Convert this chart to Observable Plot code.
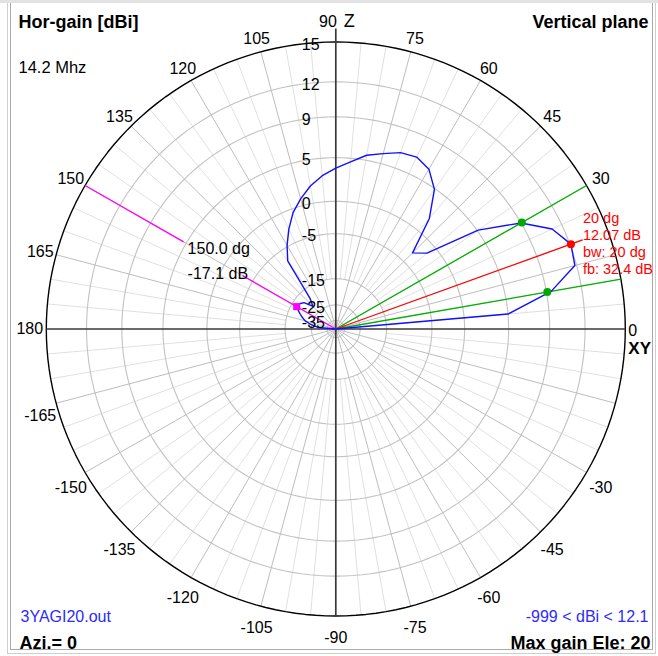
<!DOCTYPE html>
<html><head><meta charset="utf-8">
<script src="https://cdn.jsdelivr.net/npm/d3@7"></script>
<script src="https://cdn.jsdelivr.net/npm/@observablehq/plot@0.6"></script>
<style>
html,body{margin:0;padding:0;background:#fff;}
#wrap{position:relative;width:658px;height:656px;overflow:hidden;}
.ln{position:absolute;}
#chart{position:absolute;left:0;top:0;}
</style></head>
<body>
<div id="wrap">
  <div class="ln" style="left:0;top:0;width:658px;height:3px;background:#e2e2e2"></div>
  <div class="ln" style="left:7px;top:3px;width:1px;height:651px;background:#cfcfcf"></div>
  <div class="ln" style="left:10px;top:3px;width:1px;height:647px;background:#a9a9a9"></div>
  <div class="ln" style="left:10px;top:649px;width:643px;height:1px;background:#a9a9a9"></div>
  <div class="ln" style="left:7px;top:653px;width:649px;height:1px;background:#cfcfcf"></div>
  <div class="ln" style="left:652px;top:3px;width:1px;height:647px;background:#a9a9a9"></div>
  <div class="ln" style="left:655px;top:3px;width:1px;height:651px;background:#cfcfcf"></div>
  <div id="chart"></div>
</div>
<script>
// ---- data ----
const elevationDeg = [0,5,10,15,20,25,30,35,40,45,50,55,60,65,70,75,80,85,90,95,100,105,110,115,120,125,130,135,140,145,150,155,160,165,170,175,180];
const gainDbi = [-999,5.0,9.4,11.85,12.07,11.1,9.0,5.1,-1.5,-3.1,1.9,4.9,6.3,6.8,6.6,6.0,5.5,4.6,3.8,3.0,2.0,0.8,-0.6,-2.7,-4.8,-7.7,-19.1,-22,-18.5,-17.4,-17.1,-18.8,-20.5,-22.2,-24.8,-29,-999];
const gainTicks = [15,12,9,5,0,-5,-15,-25,-35];
const angleTicks = [30,45,60,75,105,120,135,150,165,180,-30,-45,-60,-75,-90,-105,-120,-135,-150,-165];
const maxAngle = 20, maxGain = 12.07, beamwidth = 20, frontBack = 32.4;
const bwEdges = [10, 30];
const markerAngle = 150, markerGain = -17.1;
const freqLabel = "14.2 Mhz", fileLabel = "3YAGI20.out", rangeLabel = "-999 < dBi < 12.1";
const aziLabel = "Azi.= 0", maxEleLabel = "Max gain Ele: " + maxAngle;

// ---- MMANA-style radial gain scale (fraction of outer ring) ----
const radial = d3.scaleLinear()
  .domain([-60,-35,-25,-15,-5,0,5,9,12,15])
  .range([0,0.03,0.084,0.175,0.332,0.445,0.597,0.739,0.861,1])
  .clamp(true);
const rad = Math.PI/180;
const cx = (a, r) => r*Math.cos(a*rad);
const cy = (a, r) => r*Math.sin(a*rad);

const pattern = elevationDeg.map((a,i)=>({a, g: gainDbi[i]}));
const rings = gainTicks.flatMap(g => d3.range(0, 362, 2).map(t => ({g, t})));
const majorSpokes = d3.range(0, 360, 15).filter(a => a % 90 !== 0);
const minorSpokes = d3.range(0, 360, 5).filter(a => a % 15 !== 0);
const halfPower = maxGain - 3;
const topLabels = angleTicks.filter(a => a > 0);
const botLabels = angleTicks.filter(a => a < 0);
const lab = 1.045;

const F = "'Liberation Sans', Arial, sans-serif";
const ringR = r => radial(15)*r;

const chart = Plot.plot({
  width: 658, height: 656, margin: 0,
  x: {domain: [-335.3/289.5, (658-335.3)/289.5], range: [0, 658], axis: null},
  y: {domain: [-(656-328.5)/287, 328.5/287], range: [656, 0], axis: null},
  style: {fontFamily: F, background: "transparent", overflow: "visible", color: "#000"},
  marks: [
    // minor spokes
    Plot.link(minorSpokes, {x1: a => cx(a, radial(-15)), y1: a => cy(a, radial(-15)), x2: a => cx(a, 1), y2: a => cy(a, 1), stroke: "#e0e0e0", strokeWidth: 1}),
    // major spokes
    Plot.link(majorSpokes, {x1: () => 0, y1: () => 0, x2: a => cx(a, 1), y2: a => cy(a, 1), stroke: "#bdbdbd", strokeWidth: 1}),
    // rings
    Plot.line(rings.filter(d => d.g !== 15), {x: d => cx(d.t, radial(d.g)), y: d => cy(d.t, radial(d.g)), z: "g", stroke: "#c2c2c2", strokeWidth: 1.1}),
    Plot.line(rings.filter(d => d.g === 15), {x: d => cx(d.t, radial(d.g)), y: d => cy(d.t, radial(d.g)), z: "g", stroke: "#000", strokeWidth: 1.4}),
    // axes
    Plot.link([0], {x1: () => -ringR(1), y1: () => 0, x2: () => ringR(1), y2: () => 0, stroke: "#3a3a3a", strokeWidth: 1.7}),
    Plot.link([0], {x1: () => 0, y1: () => -ringR(1), x2: () => 0, y2: () => ringR(1.047), stroke: "#3a3a3a", strokeWidth: 1.7}),
    // beamwidth edges and max direction
    Plot.link(bwEdges, {x1: () => 0, y1: () => 0, x2: a => cx(a, 1), y2: a => cy(a, 1), stroke: "#00b000", strokeWidth: 1.3}),
    Plot.link([maxAngle], {x1: () => 0, y1: () => 0, x2: a => cx(a, 0.907), y2: a => cy(a, 0.907), stroke: "#ff0000", strokeWidth: 1.3}),
    // marker spoke (broken around its label)
    Plot.link([[0, 0.372], [0.607, 1]], {x1: d => cx(markerAngle, d[0]), y1: d => cy(markerAngle, d[0]), x2: d => cx(markerAngle, d[1]), y2: d => cy(markerAngle, d[1]), stroke: "#ff00ff", strokeWidth: 1.3}),
    // pattern
    Plot.line(pattern, {x: d => cx(d.a, radial(d.g)), y: d => cy(d.a, radial(d.g)), stroke: "#1010ff", strokeWidth: 1.4}),
    // dots
    Plot.dot(bwEdges, {x: a => cx(a, radial(halfPower)), y: a => cy(a, radial(halfPower)), r: 4, fill: "#00a800"}),
    Plot.dot([maxAngle], {x: a => cx(a, radial(maxGain)), y: a => cy(a, radial(maxGain)), r: 4, fill: "#ff0000"}),
    Plot.dot([markerAngle], {x: a => cx(a, radial(markerGain)), y: a => cy(a, radial(markerGain)), r: 4, symbol: "square", fill: "#ff00ff"}),
    // radial tick labels
    Plot.text(gainTicks, {x: () => 0, y: g => radial(g), text: g => String(g), textAnchor: "start", dx: -34, dy: 2.5, fontSize: 16, fill: "#000"}),
    // angle labels
    Plot.text(topLabels, {x: a => cx(a, 1.057), y: a => cy(a, lab), text: a => String(a), fontSize: 16, fill: "#000"}),
    Plot.text(botLabels, {x: a => cx(a, 1.057), y: a => cy(a, lab), text: a => String(a), dy: 9, fontSize: 16, fill: "#000"}),
    Plot.text([90], {x: () => 0, y: a => cy(a, lab), text: a => String(a), textAnchor: "end", dx: 1, dy: -7.5, fontSize: 16, fill: "#000"}),
    Plot.text(["Z"], {x: () => 0, y: () => cy(90, lab), textAnchor: "start", dx: 8, dy: -7.5, fontSize: 18, fill: "#000"}),
    Plot.text([0], {x: () => 1, y: () => 0, text: a => String(a), textAnchor: "start", dx: 3, dy: 1.5, fontSize: 16, fill: "#000"}),
    Plot.text(["XY"], {x: () => 1, y: () => 0, textAnchor: "start", dx: 3, dy: 20, fontSize: 17, fontWeight: "bold", fill: "#000"}),
    // max annotation
    Plot.text([maxAngle], {x: a => cx(a, radial(maxGain)), y: a => cy(a, radial(maxGain)),
      text: () => `${maxAngle} dg\n${maxGain.toFixed(2)} dB\nbw: ${beamwidth} dg\nfb: ${frontBack} dB`,
      textAnchor: "start", lineAnchor: "top", dx: 12, dy: -33, fontSize: 14.5, lineHeight: 1.17, fill: "#ff0000"}),
    // marker annotation
    Plot.text([markerAngle], {x: a => cx(a, 0.607), y: a => cy(a, 0.607),
      text: () => `${markerAngle.toFixed(1)} dg\n${markerGain} dB`,
      textAnchor: "start", lineAnchor: "top", dx: 4, dy: -5, fontSize: 16, lineHeight: 1.55, fill: "#000"}),
    // corner texts
    Plot.text(["Hor-gain [dBi]"], {frameAnchor: "top-left", textAnchor: "start", lineAnchor: "top", dx: 18, dy: 15, fontSize: 18, fontWeight: "bold", fill: "#000"}),
    Plot.text([freqLabel], {frameAnchor: "top-left", textAnchor: "start", lineAnchor: "top", dx: 18, dy: 61, fontSize: 16.5, fill: "#000"}),
    Plot.text(["Vertical plane"], {frameAnchor: "top-right", textAnchor: "end", lineAnchor: "top", dx: -10, dy: 15, fontSize: 18, fontWeight: "bold", fill: "#000"}),
    Plot.text([fileLabel], {frameAnchor: "top-left", textAnchor: "start", lineAnchor: "top", dx: 20, dy: 610, fontSize: 16, fill: "#2b2bff"}),
    Plot.text([aziLabel], {frameAnchor: "top-left", textAnchor: "start", lineAnchor: "top", dx: 19, dy: 636, fontSize: 18, fontWeight: "bold", fill: "#000"}),
    Plot.text([rangeLabel], {frameAnchor: "top-right", textAnchor: "end", lineAnchor: "top", dx: -10, dy: 610, fontSize: 16, fill: "#2b2bff"}),
    Plot.text([maxEleLabel], {frameAnchor: "top-right", textAnchor: "end", lineAnchor: "top", dx: -8, dy: 636, fontSize: 18, fontWeight: "bold", fill: "#000"})
  ]
});
document.getElementById("chart").appendChild(chart);
</script>
</body></html>
